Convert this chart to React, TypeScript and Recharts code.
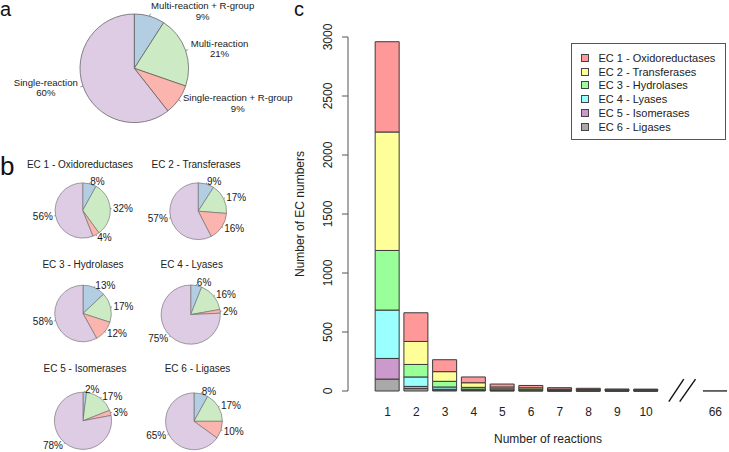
import { PieChart, Pie, Cell, BarChart, Bar, XAxis, YAxis, Legend, ReferenceLine } from 'recharts';

const FONT = '"Liberation Sans", Arial, Helvetica, sans-serif';

// Panel a - overall split of EC numbers
const overviewNames = ['Multi-reaction + R-group', 'Multi-reaction', 'Single-reaction + R-group', 'Single-reaction'];
const overviewPct = [9, 21, 9, 60];
const pieColors = ['#B3CDE3', '#CCEBC5', '#FBB4AE', '#DECBE4'];

// Panel b - same split per EC class
const ecClasses = [
  'EC 1 - Oxidoreductases',
  'EC 2 - Transferases',
  'EC 3 - Hydrolases',
  'EC 4 - Lyases',
  'EC 5 - Isomerases',
  'EC 6 - Ligases',
];
const ec1Pct = [8, 32, 4, 56];
const ec2Pct = [9, 17, 16, 57];
const ec3Pct = [13, 17, 12, 58];
const ec4Pct = [6, 16, 2, 75];
const ec5Pct = [2, 17, 3, 78];
const ec6Pct = [8, 17, 10, 65];
const ecPcts = [ec1Pct, ec2Pct, ec3Pct, ec4Pct, ec5Pct, ec6Pct];

// Panel c - EC numbers by number of reactions
const reactionLabels = ['1', '2', '3', '4', '5', '6', '7', '8', '9', '10', '66'];
const reactionPos = [1, 2, 3, 4, 5, 6, 7, 8, 9, 10, 12.41];
const ec1Counts = [765, 243, 101, 49, 25, 20, 12, 10, 6, 5, 0];
const ec2Counts = [1004, 195, 82, 39, 15, 12, 7, 6, 5, 5, 0];
const ec3Counts = [505, 106, 48, 15, 10, 8, 5, 4, 3, 3, 0];
const ec4Counts = [410, 80, 19, 7, 4, 3, 2, 1, 1, 1, 0];
const ec5Counts = [175, 19, 7, 4, 2, 2, 1, 1, 1, 1, 0];
const ec6Counts = [101, 20, 8, 5, 3, 2, 1, 1, 1, 1, 1];
const barColors = ['#FF9999', '#FFFF99', '#99FF99', '#99FFFF', '#CC99CC', '#A9A9A9'];
const yTicks = [0, 500, 1000, 1500, 2000, 2500, 3000];

// layout of the small pies (centre + radius, title position)
const smallPies = [
  { cx: 82.7, cy: 210.5, r: 27.6, tx: 80, ty: 164.7 },
  { cx: 198.2, cy: 211.2, r: 28.4, tx: 196, ty: 164.7 },
  { cx: 83, cy: 313.5, r: 28.3, tx: 83, ty: 264.7 },
  { cx: 190.7, cy: 314.6, r: 29.6, tx: 191.7, ty: 264.7 },
  { cx: 83, cy: 420.8, r: 28.6, tx: 85, ty: 368.7 },
  { cx: 194, cy: 421.3, r: 28.4, tx: 197.5, ty: 368.7 },
];

let ctx: CanvasRenderingContext2D | null = null;
const measure = (s: string, size: number) => {
  if (!ctx) ctx = document.createElement('canvas').getContext('2d');
  if (!ctx) return s.length * size * 0.5;
  ctx.font = `${size}px ${FONT}`;
  return ctx.measureText(s).width;
};

// R style pie labels: short tick, text block at 1.1 r, left/right adjusted
const pieLabel = (getLines: (i: number) => string[], size: number, lh: number) => (props: any) => {
  const { cx, cy, midAngle, outerRadius, index } = props;
  const rad = (-midAngle * Math.PI) / 180;
  const cos = Math.cos(rad);
  const sin = Math.sin(rad);
  const lines = getLines(index);
  const lx = cx + outerRadius * 1.1 * cos;
  const ly = cy + outerRadius * 1.1 * sin;
  const w = Math.max(...lines.map((l) => measure(l, size)));
  const mid = cos >= -0.001 ? lx + w / 2 : lx - w / 2;
  const y0 = ly - ((lines.length - 1) * lh) / 2;
  return (
    <g>
      <line
        x1={cx + outerRadius * cos}
        y1={cy + outerRadius * sin}
        x2={cx + outerRadius * 1.05 * cos}
        y2={cy + outerRadius * 1.05 * sin}
        stroke="#666"
        strokeWidth={0.7}
      />
      <text textAnchor="middle" fontSize={size} fontFamily={FONT} fill="#1a1a1a">
        {lines.map((l, i) => (
          <tspan key={i} x={mid} y={y0 + i * lh} dy="0.36em">
            {l}
          </tspan>
        ))}
      </text>
    </g>
  );
};

const RotTick = ({ x, y, payload }: any) => (
  <text
    x={x - 8}
    y={y}
    transform={`rotate(-90, ${x - 8}, ${y})`}
    textAnchor="middle"
    fontSize={12}
    fontFamily={FONT}
    fill="#222"
  >
    {payload.value}
  </text>
);

const LegendBox = ({ payload }: any) => {
  const items = [...(payload || [])].sort((a: any, b: any) => (a.value < b.value ? -1 : 1));
  return (
    <div
      style={{
        border: '1px solid #555',
        width: 155,
        height: 97,
        boxSizing: 'border-box',
        padding: '7px 0 0 9px',
        background: '#fff',
        fontFamily: FONT,
        fontSize: 11,
        color: '#222',
      }}
    >
      {items.map((p: any) => (
        <div key={p.value} style={{ display: 'flex', alignItems: 'center', height: 13.8 }}>
          <span
            style={{
              width: 8,
              height: 8,
              background: p.color,
              border: '1px solid #444',
              boxSizing: 'border-box',
              marginRight: 10,
            }}
          />
          <span>{p.value}</span>
        </div>
      ))}
    </div>
  );
};

const breakMarks = [
  { x1: 10.79, x2: 11.31 },
  { x1: 11.17, x2: 11.72 },
];

export default function App() {
  const overviewData = overviewPct.map((v, i) => ({ name: overviewNames[i], value: v }));
  const barData = reactionLabels.map((label, i) => ({
    label,
    pos: reactionPos[i],
    ec1: ec1Counts[i],
    ec2: ec2Counts[i],
    ec3: ec3Counts[i],
    ec4: ec4Counts[i],
    ec5: ec5Counts[i],
    ec6: ec6Counts[i],
  }));
  const seriesKeys = ['ec1', 'ec2', 'ec3', 'ec4', 'ec5', 'ec6'];

  return (
    <div
      style={{
        position: 'absolute',
        left: 0,
        top: 0,
        width: 729,
        height: 452,
        background: '#fff',
        overflow: 'hidden',
        fontFamily: FONT,
      }}
    >
      <div style={{ position: 'absolute', left: 0, top: 0 }}>
        <PieChart width={300} height={452} margin={{ top: 0, right: 0, bottom: 0, left: 0 }}>
          <Pie
            data={overviewData}
            dataKey="value"
            cx={134.3}
            cy={68.3}
            outerRadius={54.3}
            startAngle={90}
            endAngle={-270}
            isAnimationActive={false}
            labelLine={false}
            label={pieLabel((i) => [overviewNames[i], `${overviewPct[i]}%`], 9.6, 10.4)}
          >
            {overviewData.map((d, i) => (
              <Cell key={d.name} fill={pieColors[i]} stroke="#555" strokeWidth={0.7} />
            ))}
          </Pie>
          {smallPies.map((p, k) => {
            const data = ecPcts[k].map((v, i) => ({ name: overviewNames[i], value: v }));
            return (
              <Pie
                key={ecClasses[k]}
                data={data}
                dataKey="value"
                cx={p.cx}
                cy={p.cy}
                outerRadius={p.r}
                startAngle={90}
                endAngle={-270}
                isAnimationActive={false}
                labelLine={false}
                label={pieLabel((i) => [`${ecPcts[k][i]}%`], 10, 10)}
              >
                {data.map((d, i) => (
                  <Cell key={d.name} fill={pieColors[i]} stroke="#666" strokeWidth={0.6} />
                ))}
              </Pie>
            );
          })}
        </PieChart>
      </div>

      <div style={{ position: 'absolute', left: 280, top: 0 }}>
        <BarChart
          width={449}
          height={452}
          data={barData}
          margin={{ top: 37, right: 1, bottom: 21, left: 20 }}
          barSize={24}
        >
          <XAxis
            dataKey="pos"
            type="number"
            domain={[-0.376, 12.85]}
            ticks={reactionPos}
            interval={0}
            allowDataOverflow
            tickFormatter={(v) => reactionLabels[reactionPos.indexOf(v)]}
            tickLine={false}
            axisLine={false}
            height={40}
            tickMargin={10}
            tick={{ fontSize: 12, fill: '#222', fontFamily: FONT }}
          />
          <YAxis
            type="number"
            domain={[0, 3000]}
            ticks={yTicks}
            interval={0}
            width={48}
            tick={<RotTick />}
            tickSize={6}
            tickLine={{ stroke: '#555' }}
            axisLine={{ stroke: '#555' }}
          />
          <Legend
            layout="horizontal"
            verticalAlign="middle"
            align="center"
            wrapperStyle={{ left: 290.5, top: 43, width: 155, height: 97 }}
            content={<LegendBox />}
          />
          {[5, 4, 3, 2, 1, 0].map((k) => (
            <Bar
              key={seriesKeys[k]}
              dataKey={seriesKeys[k]}
              name={ecClasses[k]}
              stackId="ec"
              fill={barColors[k]}
              stroke="#3a3a3a"
              strokeWidth={1}
              isAnimationActive={false}
            />
          ))}
          {breakMarks.map((b, i) => (
            <ReferenceLine
              key={i}
              segment={[
                { x: b.x1, y: -90 },
                { x: b.x2, y: 100 },
              ]}
              ifOverflow="visible"
              stroke="#111"
              strokeWidth={1.4}
            />
          ))}
        </BarChart>
      </div>

      {smallPies.map((p, k) => (
        <div
          key={ecClasses[k]}
          style={{
            position: 'absolute',
            left: p.tx,
            top: p.ty,
            transform: 'translate(-50%, -50%)',
            whiteSpace: 'nowrap',
            fontSize: 10,
            lineHeight: '12px',
            color: '#222',
          }}
        >
          {ecClasses[k]}
        </div>
      ))}

      <svg
        width={729}
        height={452}
        style={{ position: 'absolute', left: 0, top: 0, pointerEvents: 'none' }}
      >
        <g fontFamily={FONT} fill="#111">
          <text x={0} y={16} fontSize={20}>a</text>
          <text x={0} y={175} fontSize={26}>b</text>
          <text x={294} y={16} fontSize={20}>c</text>
        </g>
        <text x={548} y={443} textAnchor="middle" fontSize={12} fontFamily={FONT} fill="#222">
          Number of reactions
        </text>
        <text
          x={304}
          y={214}
          transform="rotate(-90, 304, 214)"
          textAnchor="middle"
          fontSize={12}
          fontFamily={FONT}
          fill="#222"
        >
          Number of EC numbers
        </text>
      </svg>
    </div>
  );
}
